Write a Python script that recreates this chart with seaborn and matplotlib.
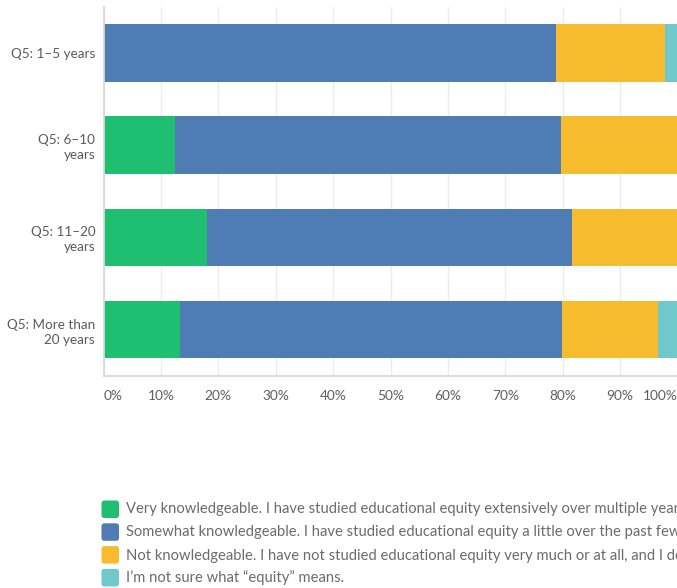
import matplotlib
matplotlib.use("Agg")
import matplotlib.pyplot as plt
import numpy as np
import pandas as pd
import seaborn as sns
from matplotlib.patches import FancyBboxPatch

# Respondent groups (Q5: years of experience)
groups = ["Q5: 1–5 years", "Q5: 6–10\nyears", "Q5: 11–20\nyears", "Q5: More than\n20 years"]

# Share of answers per group, in percent
very_knowledgeable = [0.0, 12.4, 18.1, 13.3]
somewhat_knowledgeable = [78.8, 67.3, 63.5, 66.6]
not_knowledgeable = [19.0, 20.3, 18.4, 16.7]
not_sure = [2.2, 0.0, 0.0, 3.4]

answers = [
    "Very knowledgeable. I have studied educational equity extensively over multiple years.",
    "Somewhat knowledgeable. I have studied educational equity a little over the past few years.",
    "Not knowledgeable. I have not studied educational equity very much or at all, and I don’t know much about it.",
    "I’m not sure what “equity” means.",
]
colors = ["#1fbf71", "#507cb6", "#f7bc2e", "#6ec8cc"]

x_ticks = [0, 10, 20, 30, 40, 50, 60, 70, 80, 90, 100]
x_labels = [f"{t}%" for t in x_ticks]

sns.set_style("white")
plt.rcParams["font.family"] = ["Lato", "DejaVu Sans"]

W, H = 677, 588
fig = plt.figure(figsize=(W / 100, H / 100), dpi=100)
ax = fig.add_axes([103.5 / W, (H - 375.7) / H, 574.0 / W, (375.7 - 6.7) / H])

series = np.array([very_knowledgeable, somewhat_knowledgeable, not_knowledgeable, not_sure])
cum = np.cumsum(series, axis=0)
df = pd.DataFrame({"group": groups})

# Stacked bars: draw the running totals from the widest down
for k in range(len(answers) - 1, -1, -1):
    df["value"] = cum[k]
    sns.barplot(data=df, x="value", y="group", orient="h", color=colors[k],
                saturation=1, width=0.623, linewidth=0, ax=ax, errorbar=None)

ax.set_xlim(0, 100)
ax.set_ylim(3.5, -0.5)
ax.set_xlabel("")
ax.set_ylabel("")

ax.set_xticks(x_ticks, x_labels)
xt = ax.get_xticklabels()
xt[0].set_ha("left")
xt[-1].set_ha("right")
ax.tick_params(axis="x", length=0, pad=10, labelsize=9.9, labelcolor="#5f5f5f")
ax.tick_params(axis="y", length=0, pad=6, labelsize=9.7, labelcolor="#5a5a5a")
for lab in ax.get_yticklabels():
    lab.set_linespacing(1.3)
    lab.set_ha("right")

ax.grid(axis="x", color="#ececec", linewidth=1)
ax.grid(axis="y", visible=False)
ax.set_axisbelow(True)
for s in ["top", "right"]:
    ax.spines[s].set_visible(False)
for s in ["left", "bottom"]:
    ax.spines[s].set_color("#d9d9d9")
    ax.spines[s].set_linewidth(1.3)

# Legend with rounded swatches
for i, (label, color) in enumerate(zip(answers, colors)):
    y_top = 500.5 + 22.8 * i
    sw = FancyBboxPatch((101.5 / W, 1 - (y_top + 17.5) / H), 17.5 / W, 17.5 / H,
                        boxstyle="round,pad=0,rounding_size=0.004",
                        transform=fig.transFigure, facecolor=color,
                        edgecolor="none", mutation_aspect=W / H)
    fig.add_artist(sw)
    fig.text(126 / W, 1 - (y_top + 9) / H, label, ha="left", va="center",
             fontsize=10.6, color="#6b6b6b")

fig.savefig("out.png", dpi=100)
